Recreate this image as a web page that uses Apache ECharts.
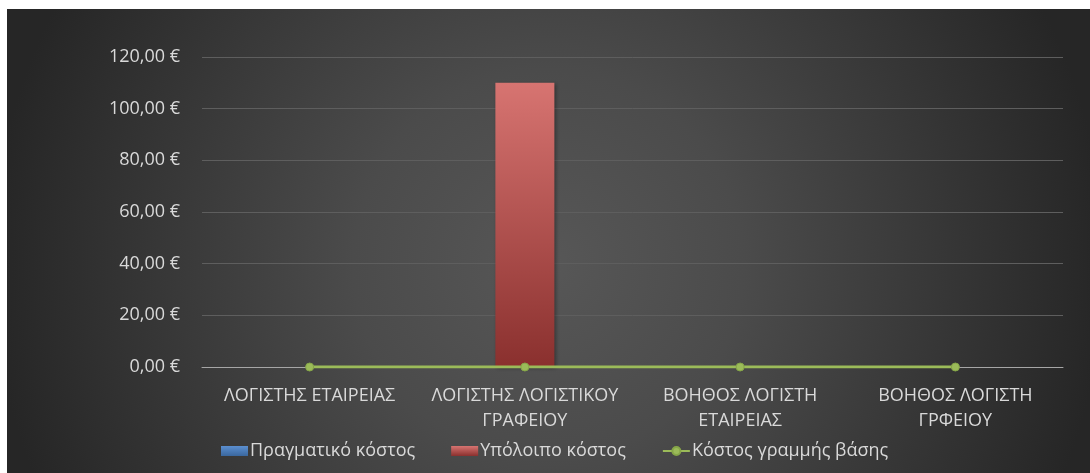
<!DOCTYPE html>
<html>
<head>
<meta charset="utf-8">
<script src="https://cdn.jsdelivr.net/npm/echarts@6/dist/echarts.min.js"></script>
<style>
  html, body { margin: 0; padding: 0; background: #ffffff; }
  #wrap { position: relative; width: 1090px; height: 473px; overflow: hidden; }
  #chart { position: absolute; left: 7px; top: 9px; width: 1083px; height: 464px; }
</style>
</head>
<body>
<div id="wrap"><div id="chart"></div></div>
<script>
// Job roles (categories) and cost series
const categories = [
  'ΛΟΓΙΣΤΗΣ ΕΤΑΙΡΕΙΑΣ',
  'ΛΟΓΙΣΤΗΣ ΛΟΓΙΣΤΙΚΟΥ\nΓΡΑΦΕΙΟΥ',
  'ΒΟΗΘΟΣ ΛΟΓΙΣΤΗ\nΕΤΑΙΡΕΙΑΣ',
  'ΒΟΗΘΟΣ ΛΟΓΙΣΤΗ\nΓΡΦΕΙΟΥ'
];
const actualCost = [0, 0, 0, 0];
const remainingCost = [0, 110, 0, 0];
const baselineCost = [0, 0, 0, 0];
const seriesNames = ['Πραγματικό κόστος', 'Υπόλοιπο κόστος', 'Κόστος γραμμής βάσης'];
const yTicks = { min: 0, max: 120, interval: 20 };

const FONT = '"Open Sans", "Noto Sans", sans-serif';
const TEXT = '#d9d9d9';

const chart = echarts.init(document.getElementById('chart'), null, { renderer: 'canvas' });

chart.setOption({
  backgroundColor: {
    type: 'radial', x: 0.5, y: 0.55, r: 1.2,
    colorStops: [
      { offset: 0, color: '#575757' },
      { offset: 0.35, color: '#4b4b4b' },
      { offset: 1, color: '#262626' }
    ]
  },
  textStyle: { fontFamily: FONT },
  animation: false,
  grid: { left: 195, right: 27, top: 48, bottom: 106 },
  legend: {
    bottom: 8,
    left: 209,
    itemWidth: 27,
    itemHeight: 10,
    itemGap: 36,
    textStyle: { color: TEXT, fontSize: 18, fontFamily: FONT, padding: [0, 0, 0, -3] },
    data: [
      { name: seriesNames[0], icon: 'rect' },
      { name: seriesNames[1], icon: 'rect' },
      { name: seriesNames[2] }
    ]
  },
  xAxis: {
    type: 'category',
    data: categories,
    axisLine: { lineStyle: { color: '#a6a6a6', width: 1 } },
    axisTick: { show: false },
    axisLabel: { color: TEXT, fontSize: 18, lineHeight: 25, margin: 16, interval: 0 }
  },
  yAxis: {
    type: 'value',
    min: yTicks.min, max: yTicks.max, interval: yTicks.interval,
    axisLine: { show: false },
    axisTick: { show: false },
    splitLine: { lineStyle: { color: '#5e5e5e', width: 1 } },
    axisLabel: {
      color: TEXT, fontSize: 18, margin: 22,
      formatter: v => v.toFixed(2).replace('.', ',') + ' €'
    }
  },
  series: [
    {
      name: seriesNames[0], type: 'bar', stack: 'cost', barWidth: 59,
      itemStyle: {
        color: { type: 'linear', x: 0, y: 0, x2: 0, y2: 1,
          colorStops: [{ offset: 0, color: '#5b8fd0' }, { offset: 1, color: '#3a679e' }] }
      },
      data: actualCost
    },
    {
      name: seriesNames[1], type: 'bar', stack: 'cost', barWidth: 59,
      itemStyle: {
        color: { type: 'linear', x: 0, y: 0, x2: 0, y2: 1,
          colorStops: [{ offset: 0, color: '#d77471' }, { offset: 1, color: '#8a302e' }] },
        shadowColor: 'rgba(0,0,0,0.35)', shadowBlur: 4, shadowOffsetX: 2, shadowOffsetY: 1
      },
      data: remainingCost
    },
    {
      name: seriesNames[2], type: 'line',
      symbol: 'circle', symbolSize: 8,
      lineStyle: { color: '#9bbb59', width: 3 },
      itemStyle: { color: '#9bbb59', borderColor: '#86a648', borderWidth: 1 },
      data: baselineCost,
      z: 5
    }
  ]
});
</script>
</body>
</html>
